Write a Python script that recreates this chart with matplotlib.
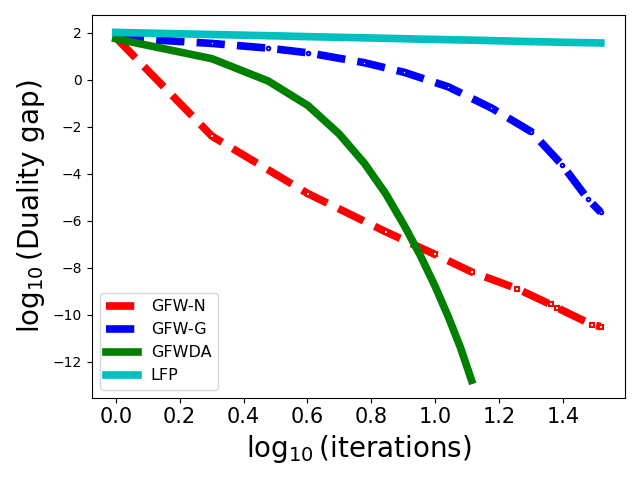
import numpy as np
import matplotlib.pyplot as plt
from matplotlib.ticker import MultipleLocator

# iteration counts where each method was recorded, and log10 duality gap
red_iters = [1, 2, 4, 7, 10, 13, 18, 23, 24, 31, 33]
red_vals = [1.8, -2.4, -4.85, -6.47, -7.44, -8.18, -8.89, -9.57, -9.70, -10.43, -10.51]

blue_iters = [1, 2, 3, 4, 6, 8, 11, 15, 20, 25, 30, 33]
blue_vals = [1.8, 1.55, 1.35, 1.15, 0.73, 0.32, -0.30, -1.20, -2.21, -3.63, -5.06, -5.64]

green_iters = [1, 2, 3, 4, 5, 6, 7, 8, 9, 10, 11, 12, 13]
green_vals = [1.75, 0.9, -0.05, -1.1, -2.3, -3.55, -4.85, -6.2, -7.5, -8.8, -10.1, -11.4, -12.8]

cyan_iters = [1, 2, 3, 4, 5, 6, 8, 10, 13, 16, 20, 25, 33]
cyan_vals = [2.02, 1.93, 1.88, 1.84, 1.81, 1.79, 1.75, 1.72, 1.69, 1.66, 1.63, 1.60, 1.57]

labels = ["GFW-N", "GFW-G", "GFWDA", "LFP"]

fig, ax = plt.subplots(figsize=(6.4, 4.8), dpi=100)

lw = 5.5
ax.plot(np.log10(red_iters), red_vals, 'r--s', lw=lw, ms=2.5, mfc='w', mew=1.5, label=labels[0])
ax.plot(np.log10(blue_iters), blue_vals, 'b--o', lw=lw, ms=2.5, mfc='w', mew=1.5, label=labels[1])
ax.plot(np.log10(green_iters), green_vals, 'g-+', lw=lw, ms=5, mew=0.8, label=labels[2])
ax.plot(np.log10(cyan_iters), cyan_vals, 'c-+', lw=lw, ms=5, mew=0.8, label=labels[3])

ax.xaxis.set_major_locator(MultipleLocator(0.2))
ax.set_xlabel(r'$\log_{10}$(iterations)', fontsize=20)
ax.set_ylabel(r'$\log_{10}$(Duality gap)', fontsize=20)
ax.tick_params(axis='x', labelsize=15)
ax.tick_params(axis='y', labelsize=10)

leg = ax.legend(loc='lower left', fontsize=11.5)
for h in leg.get_lines()[:2]:
    h.set_marker('')

plt.tight_layout()
plt.savefig('out.png')
